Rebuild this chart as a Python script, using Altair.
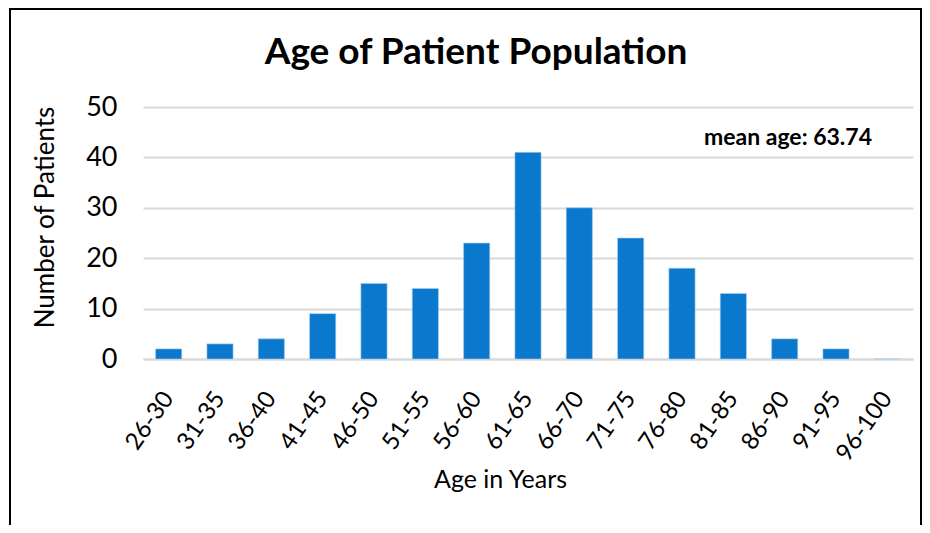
import altair as alt
import pandas as pd

age_groups = ["26-30", "31-35", "36-40", "41-45", "46-50", "51-55", "56-60", "61-65",
              "66-70", "71-75", "76-80", "81-85", "86-90", "91-95", "96-100"]
patients = [2, 3, 4, 9, 15, 14, 23, 41, 30, 24, 18, 13, 4, 2, 0]
mean_label = ["mean age: 63.74"]
title_text = ["Age of Patient Population"]

df = pd.DataFrame({"age": age_groups, "n": patients})
FONT = "Lato"

bars = alt.Chart(df).mark_bar(color="#0a79cd", stroke="#a8cdee", strokeWidth=0.6).encode(
    x=alt.X("age:N", sort=age_groups, title="Age in Years",
            scale=alt.Scale(paddingInner=0.49, paddingOuter=0.245),
            axis=alt.Axis(labelAngle=-55, labelFontSize=24, labelColor="#000", labelFont=FONT,
                          labelPadding=35, ticks=False, domainColor="#d9d9d9", domainWidth=2,
                          titleFontSize=25, titleFont=FONT, titleFontWeight="normal", titleColor="#000",
                          titleX=357, titleY=120, titleBaseline="middle")),
    y=alt.Y("n:Q", title="Number of Patients",
            scale=alt.Scale(domain=[0, 50], nice=False),
            axis=alt.Axis(values=[0, 10, 20, 30, 40, 50], labelFontSize=27, labelColor="#000",
                          labelFont=FONT, labelPadding=26, ticks=False, domain=False,
                          gridColor="#d9d9d9", gridWidth=2,
                          titleFontSize=26, titleFont=FONT, titleFontWeight="normal", titleColor="#000",
                          titleX=-98, titleY=110, titleBaseline="middle", titleAngle=-90)),
)

note = alt.Chart(pd.DataFrame({"t": mean_label})).mark_text(
    align="right", baseline="middle", fontSize=23, fontWeight="bold", font=FONT, color="#000"
).encode(text="t:N", x=alt.value(729), y=alt.value(31))

title = alt.Chart(pd.DataFrame({"t": title_text})).mark_text(
    align="center", baseline="alphabetic", fontSize=37, fontWeight="bold", font=FONT, color="#000"
).encode(text="t:N", x=alt.value(333), y=alt.value(-43))

frame = alt.Chart(pd.DataFrame({"t": mean_label})).mark_rect(
    fill=None, stroke="#000", strokeWidth=2
).encode(x=alt.value(-133), x2=alt.value(778), y=alt.value(-98), y2=alt.value(440))

chart = alt.layer(frame, bars, note, title).properties(
    width=770, height=252,
    autosize=alt.AutoSizeParams(type="none"),
    padding={"left": 135, "top": 99, "right": 9, "bottom": 166},
).configure_view(stroke=None)

chart.save("out.html", embed_options={"renderer": "svg", "actions": False})
